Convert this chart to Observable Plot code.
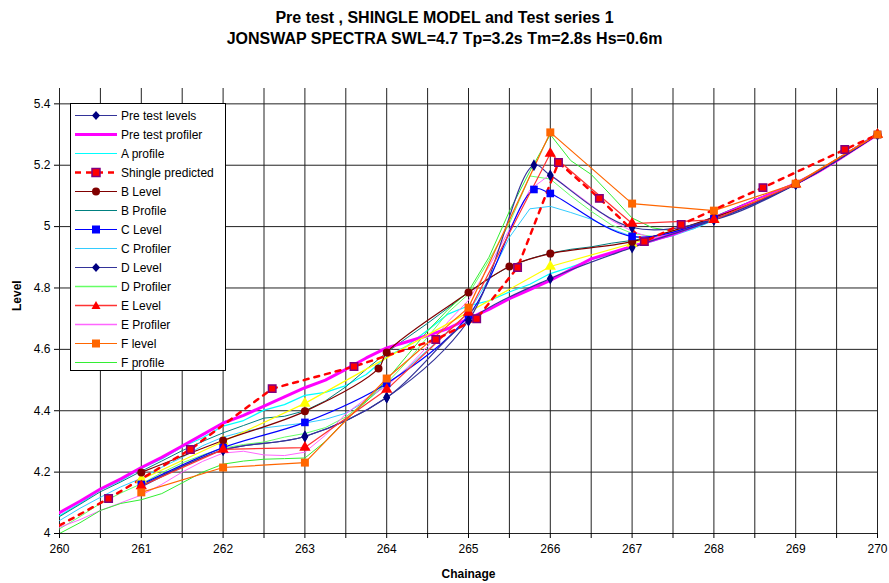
<!DOCTYPE html>
<html><head><meta charset="utf-8">
<script src="https://cdn.jsdelivr.net/npm/d3@7"></script>
<script src="https://cdn.jsdelivr.net/npm/@observablehq/plot@0.6"></script>
<style>
body{margin:0;background:#fff;font-family:"Liberation Sans",Arial,sans-serif;}
#wrap{position:relative;width:889px;height:583px;overflow:hidden;}
#title{height:50px;text-align:center;font-weight:bold;font-size:16px;line-height:21px;padding-top:7px;box-sizing:border-box;color:#000;}
#legend{position:absolute;left:70px;top:103px;width:156px;height:268px;border:1px solid #000;background:#fff;box-sizing:border-box;padding-top:2px;}
.row{height:19px;display:flex;align-items:center;font-size:12px;color:#000;white-space:nowrap;}
.row svg{margin-left:4px;margin-right:4px;flex:none;}
</style></head>
<body>
<div id="wrap">
<div id="title"><div>Pre test , SHINGLE MODEL and Test series 1</div><div>JONSWAP SPECTRA SWL=4.7 Tp=3.2s Tm=2.8s Hs=0.6m</div></div>
<div id="chart"></div>
<div id="legend"></div>
</div>
<script>
// ---- data ----
const xTickValues = [260,260.5,261,261.5,262,262.5,263,263.5,264,264.5,265,265.5,266,266.5,267,267.5,268,268.5,269,269.5,270];
const yTickValues = [4,4.2,4.4,4.6,4.8,5,5.2,5.4];

const chainage = [260,260.25,260.5,260.75,261,261.25,261.5,261.75,262,262.25,262.5,262.75,263,263.25,263.5,263.75,264,264.25,264.5,264.75,265,265.25,265.5,265.75,266,266.25,266.5,266.75,267,267.25,267.5,267.75,268,268.25,268.5,268.75,269,269.25,269.5,269.75,270];

const preProfiler = [4.068,4.105,4.145,4.178,4.215,4.248,4.285,4.322,4.36,4.385,4.415,4.445,4.475,4.50,4.535,4.572,4.605,4.625,4.645,4.668,4.70,4.73,4.765,4.795,4.825,4.86,4.895,4.915,4.935,4.955,4.975,5.0,5.028,5.055,5.085,5.112,5.14,5.175,5.215,5.258,5.30];
const aProfile = [4.058,4.098,4.142,4.172,4.212,4.243,4.282,4.312,4.35,4.368,4.402,4.42,4.45,4.46,4.482,4.518,4.575,4.612,4.662,4.715,4.742,4.758,4.787,4.812,4.847,4.868,4.892,4.912,4.94,4.952,4.976,4.993,5.022,5.048,5.083,5.108,5.143,5.176,5.219,5.26,5.305];
const bProfile = [4.055,4.095,4.136,4.168,4.203,4.236,4.27,4.3,4.328,4.352,4.376,4.382,4.40,4.432,4.478,4.535,4.59,4.638,4.685,4.735,4.786,4.832,4.87,4.895,4.914,4.926,4.934,4.946,4.955,4.966,4.984,5.006,5.032,5.06,5.088,5.115,5.142,5.178,5.22,5.262,5.302];
const cProfiler = [4.042,4.082,4.118,4.152,4.18,4.216,4.248,4.286,4.314,4.332,4.344,4.352,4.36,4.372,4.392,4.432,4.485,4.538,4.598,4.66,4.72,4.83,4.965,5.058,5.066,5.046,5.024,4.992,4.968,4.955,4.97,4.993,5.02,5.05,5.08,5.108,5.138,5.174,5.214,5.256,5.298];
const dProfiler = [4.015,4.055,4.098,4.132,4.162,4.198,4.23,4.256,4.278,4.29,4.298,4.314,4.326,4.345,4.38,4.43,4.49,4.56,4.64,4.72,4.78,4.89,5.01,5.165,5.155,5.10,5.05,5.005,4.978,4.968,4.984,5.004,5.028,5.056,5.086,5.114,5.14,5.176,5.216,5.258,5.3];
const eProfiler = [4.02,4.045,4.075,4.1,4.125,4.16,4.2,4.235,4.262,4.268,4.256,4.254,4.265,4.32,4.39,4.44,4.48,4.54,4.61,4.69,4.76,4.87,4.99,5.12,5.17,5.12,5.07,5.02,4.985,4.962,4.978,5.0,5.025,5.054,5.084,5.112,5.14,5.176,5.216,5.258,5.3];
const fProfile = [4.0,4.035,4.075,4.098,4.11,4.13,4.165,4.2,4.226,4.236,4.242,4.244,4.246,4.3,4.37,4.43,4.5,4.58,4.66,4.73,4.79,4.9,5.05,5.18,5.3,5.215,5.17,5.1,5.028,4.996,4.986,5.0,5.024,5.052,5.082,5.11,5.138,5.174,5.214,5.256,5.298];

const preLevelX = [261,262,263,264,265,266,267,268,269,270];
const preLevelY = [4.155,4.272,4.316,4.443,4.694,4.831,4.932,5.022,5.138,5.30];
const bLevelX = [261,262,263,263.9,264,265,265.5,266,267,268,269,270];
const bLevelY = [4.199,4.303,4.398,4.538,4.590,4.785,4.870,4.912,4.951,5.03,5.138,5.30];
const cLevelX = [261,262,263,264,265,265.8,266,267,268,269,270];
const cLevelY = [4.160,4.280,4.362,4.489,4.710,5.121,5.108,4.968,5.025,5.138,5.30];
const dLevelX = [261,262,263,264,265,265.8,266,267,268,269,270];
const dLevelY = [4.152,4.272,4.316,4.443,4.694,5.200,5.167,4.997,5.022,5.138,5.30];
const eLevelX = [261,262,263,264,265,266,267,268,269,270];
const eLevelY = [4.155,4.274,4.280,4.469,4.720,5.238,5.010,5.022,5.138,5.30];
const fLevelX = [261,262,263,264,265,266,267,268,269,270];
const fLevelY = [4.134,4.215,4.231,4.505,4.736,5.307,5.075,5.052,5.140,5.300];
const yLevelX = [261,262,263,266,267,268,269,270];
const yLevelY = [4.176,4.300,4.424,4.870,4.945,5.025,5.138,5.30];
const shingleX = [260,260.6,261.6,262.6,263.6,264.6,265.1,265.6,266.1,266.6,267.15,267.6,268.6,269.6,270];
const shingleY = [4.026,4.114,4.274,4.472,4.544,4.632,4.700,4.867,5.209,5.092,4.951,5.007,5.127,5.251,5.30];
const shingleMarkerX = [260.6,261.6,262.6,263.6,264.6,265.1,265.6,266.1,266.6,267.15,267.6,268.6,269.6];
const shingleMarkerY = [4.114,4.274,4.472,4.544,4.632,4.700,4.867,5.209,5.092,4.951,5.007,5.127,5.251];

const legendNames = ["Pre test levels","Pre test profiler","A profile","Shingle predicted","B Level","B Profile","C Level","C Profiler","D Level","D Profiler","E Level","E Profiler","F level","F profile"];

// ---- styles ----
const C = {
  pre:"#333399", preM:"#000080", preProf:"#FF00FF", a:"#00FFFF", sh:"#FF0000", shB:"#800080",
  b:"#800000", bProf:"#008080", c:"#0000FF", cProf:"#33CCFF", d:"#333399", dM:"#000080",
  dProf:"#66FF66", e:"#FF3333", eM:"#FF0000", eProf:"#FF66FF", f:"#FF6600", fProf:"#33EE33", yel:"#FFFF00"
};
const pts = (xs, ys) => xs.map((x, i) => ({x, y: ys[i]}));
const prof = (ys) => pts(chainage, ys);

const chart = Plot.plot({
  width: 889, height: 533,
  marginTop: 38, marginBottom: 50, marginLeft: 59, marginRight: 12,
  style: {fontSize: "12px", fontFamily: "'Liberation Sans', Arial, sans-serif", background: "#fff", color: "#000"},
  x: {domain: [260, 270]},
  y: {domain: [4, 5.45]},
  marks: [
    Plot.ruleX(xTickValues, {stroke: "#222", strokeWidth: 1}),
    Plot.ruleY(yTickValues, {stroke: "#222", strokeWidth: 1}),
    Plot.axisX({ticks: xTickValues, tickFormat: d => Number.isInteger(d) ? String(d) : "", tickSize: 5, tickPadding: 6, label: null}),
    Plot.axisY({ticks: yTickValues, tickFormat: d => String(+d.toFixed(1)), tickSize: 5, tickPadding: 4, label: null}),
    Plot.text(["Chainage"], {frameAnchor: "bottom", dy: 44, fontWeight: "bold", fontSize: 12}),
    Plot.text(["Level"], {frameAnchor: "left", dx: -42, rotate: -90, fontWeight: "bold", fontSize: 12}),
    // profiles
    Plot.line(prof(aProfile), {x: "x", y: "y", stroke: C.a, strokeWidth: 1.2, clip: true}),
    Plot.line(prof(bProfile), {x: "x", y: "y", stroke: C.bProf, strokeWidth: 1, clip: true}),
    Plot.line(prof(cProfiler), {x: "x", y: "y", stroke: C.cProf, strokeWidth: 1, clip: true}),
    Plot.line(prof(dProfiler), {x: "x", y: "y", stroke: C.dProf, strokeWidth: 1, clip: true}),
    Plot.line(prof(eProfiler), {x: "x", y: "y", stroke: C.eProf, strokeWidth: 1, clip: true}),
    Plot.line(prof(fProfile), {x: "x", y: "y", stroke: C.fProf, strokeWidth: 1, clip: true}),
    Plot.line(prof(preProfiler), {x: "x", y: "y", stroke: C.preProf, strokeWidth: 3, clip: true}),
    // levels
    Plot.line(pts(yLevelX, yLevelY), {x: "x", y: "y", stroke: C.yel, strokeWidth: 1.2}),
    Plot.line(pts(bLevelX, bLevelY), {x: "x", y: "y", stroke: C.b, strokeWidth: 1.2, curve: "catmull-rom"}),
    Plot.line(pts(cLevelX, cLevelY), {x: "x", y: "y", stroke: C.c, strokeWidth: 1.2, curve: "catmull-rom"}),
    Plot.line(pts(dLevelX, dLevelY), {x: "x", y: "y", stroke: C.d, strokeWidth: 1.2, curve: "catmull-rom"}),
    Plot.line(pts(preLevelX, preLevelY), {x: "x", y: "y", stroke: C.pre, strokeWidth: 1.2, curve: "catmull-rom"}),
    Plot.line(pts(eLevelX, eLevelY), {x: "x", y: "y", stroke: C.e, strokeWidth: 1.2}),
    Plot.line(pts(fLevelX, fLevelY), {x: "x", y: "y", stroke: C.f, strokeWidth: 1.2}),
    Plot.line(pts(shingleX, shingleY), {x: "x", y: "y", stroke: C.sh, strokeWidth: 2.5, strokeDasharray: "5,6", clip: true}),
    // markers
    Plot.dot(pts(yLevelX, yLevelY), {x: "x", y: "y", symbol: "triangle", r: 4.2, fill: C.yel}),
    Plot.dot(pts(preLevelX, preLevelY), {x: "x", y: "y", symbol: "diamond", r: 3.6, fill: C.preM}),
    Plot.dot(pts(bLevelX, bLevelY), {x: "x", y: "y", symbol: "circle", r: 4, fill: C.b}),
    Plot.dot(pts(cLevelX, cLevelY), {x: "x", y: "y", symbol: "square", r: 4.3, fill: C.c}),
    Plot.dot(pts(dLevelX, dLevelY), {x: "x", y: "y", symbol: "diamond", r: 3.6, fill: C.dM}),
    Plot.dot(pts(eLevelX, eLevelY), {x: "x", y: "y", symbol: "triangle", r: 4.2, fill: C.eM}),
    Plot.dot(pts(fLevelX, fLevelY), {x: "x", y: "y", symbol: "square", r: 4.5, fill: C.f}),
    Plot.dot(pts(shingleMarkerX, shingleMarkerY), {x: "x", y: "y", symbol: "square", r: 4.2, fill: C.sh, stroke: C.shB, strokeWidth: 1.5})
  ]
});
document.getElementById("chart").appendChild(chart);

// ---- legend ----
const sw = (line, marker, extra = "") => `<svg width="42" height="19">${line}${marker}${extra}</svg>`;
const ln = (c, w = 1.2, dash = "") => `<line x1="0" y1="9.5" x2="42" y2="9.5" stroke="${c}" stroke-width="${w}" ${dash ? `stroke-dasharray="${dash}"` : ""}/>`;
const diamond = c => `<path d="M21,5 L25,9.5 L21,14 L17,9.5Z" fill="${c}"/>`;
const square = (c, s = 8, st = "") => `<rect x="${21 - s/2}" y="${9.5 - s/2}" width="${s}" height="${s}" fill="${c}" ${st}/>`;
const circle = c => `<circle cx="21" cy="9.5" r="4" fill="${c}"/>`;
const tri = c => `<path d="M21,5 L25.5,13 L16.5,13Z" fill="${c}"/>`;
const swatches = [
  sw(ln(C.pre), diamond(C.preM)),
  sw(ln(C.preProf, 3), ""),
  sw(ln(C.a, 1.2), ""),
  sw(ln(C.sh, 2.5, "6,5"), square(C.sh, 8, `stroke="${C.shB}" stroke-width="1.5"`)),
  sw(ln(C.b), circle(C.b)),
  sw(ln(C.bProf, 1), ""),
  sw(ln(C.c), square(C.c, 8)),
  sw(ln(C.cProf, 1), ""),
  sw(ln(C.d), diamond(C.dM)),
  sw(ln(C.dProf, 1.5), ""),
  sw(ln(C.e, 1.5), tri(C.eM)),
  sw(ln(C.eProf, 1.5), ""),
  sw(ln(C.f), square(C.f, 8)),
  sw(ln(C.fProf, 1), "")
];
document.getElementById("legend").innerHTML = legendNames.map((n, i) => `<div class="row">${swatches[i]}<span>${n}</span></div>`).join("");
</script>
</body></html>
